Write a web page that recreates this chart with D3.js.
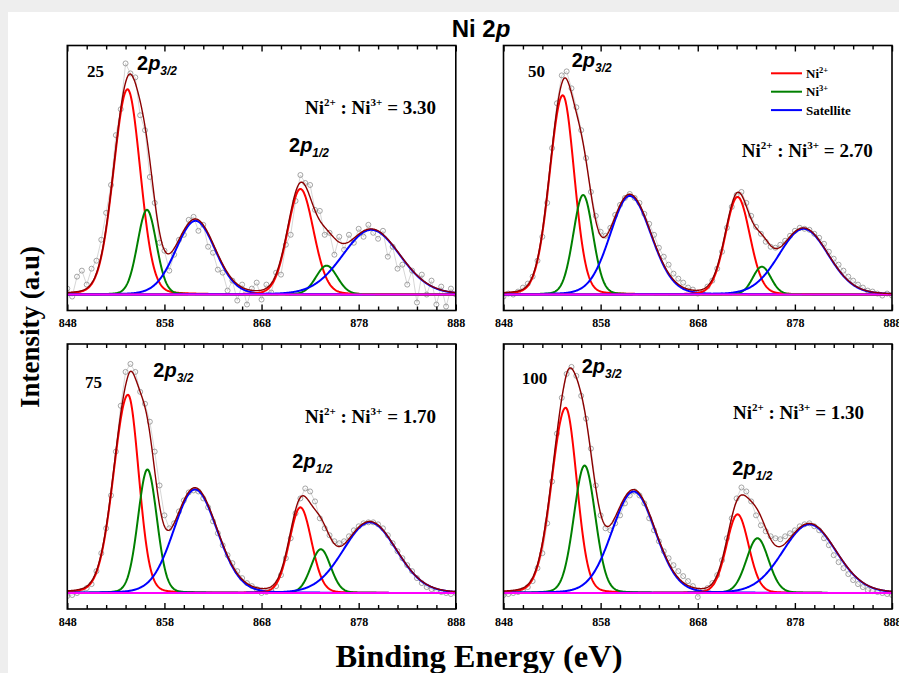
<!DOCTYPE html>
<html>
<head>
<meta charset="utf-8">
<script src="https://cdnjs.cloudflare.com/ajax/libs/d3/7.8.5/d3.min.js"></script>
<style>
  body { margin: 0; background: #eeeeee; }
  svg { display: block; }
  .tick text { font-family: "Liberation Serif", "Times New Roman", serif; font-weight: bold; font-size: 12px; }
</style>
</head>
<body>
<div id="chart"></div>
<script>
// Binding energy ticks (eV)
var majorTicks = [848, 858, 868, 878, 888];
var minorTicks = [850, 852, 854, 856, 860, 862, 864, 866, 870, 872, 874, 876, 880, 882, 884, 886];

// measured points every 0.5 eV from 848 to 888 (a.u.)
var energies = d3.range(0, 81).map(function (i) { return 848 + i * 0.5; });
var pts25 = [6, -2, 18, 24, 10, 26, 34, 55, 82, 110,
  160, 186, 232, 222, 218, 180, 165, 118, 92, 52,
  44, 24, 40, 55, 60, 75, 78, 64, 70, 48,
  42, 25, 22, 4, 14, -6, 10, -10, 6, 12,
  -5, 10, 2, 22, 20, 50, 60, 94, 120, 112,
  110, 85, 84, 60, 62, 40, 58, 45, 60, 52,
  66, 58, 70, 62, 56, 64, 38, 48, 26, 30,
  10, 24, -8, 20, 0, 14, -10, 8, -12, 6,
  0];
var pts50 = [-2, 1, 0, 3, 7, 11, 18, 34, 58, 92,
  147, 192, 220, 224, 207, 188, 165, 137, 103, 79,
  63, 59, 67, 80, 90, 97, 101, 97, 92, 81,
  71, 60, 47, 38, 30, 21, 16, 12, 7, 5,
  1, 2, 8, 14, 26, 43, 67, 88, 100, 103,
  92, 79, 68, 61, 53, 48, 47, 50, 54, 59,
  64, 67, 66, 65, 61, 57, 51, 43, 36, 30,
  24, 18, 14, 10, 7, 4, 3, 1, -1, 1,
  -1];
var pts75 = [-3, -2, 0, 2, 5, 9, 22, 40, 65, 98,
  142, 188, 222, 230, 222, 202, 190, 172, 142, 108,
  78, 65, 70, 82, 93, 101, 103, 102, 95, 86,
  72, 60, 48, 38, 30, 22, 15, 10, 7, 4,
  0, 1, 3, 7, 18, 35, 55, 80, 95, 105,
  102, 92, 75, 65, 58, 52, 50, 52, 57, 63,
  67, 70, 71, 71, 69, 65, 58, 50, 42, 35,
  28, 22, 15, 10, 6, 4, 2, 1, 0, -1,
  0];
var pts100 = [-2, -1, 0, 1, 3, 6, 12, 25, 40, 70,
  112, 160, 196, 220, 227, 218, 198, 175, 145, 108,
  78, 65, 63, 70, 78, 90, 98, 102, 98, 90,
  75, 63, 52, 42, 35, 28, 22, 17, 12, 7,
  -4, 2, 5, 10, 18, 33, 55, 75, 95, 106,
  102, 92, 78, 68, 62, 57, 55, 54, 57, 60,
  63, 67, 69, 70, 67, 63, 55, 48, 38, 31,
  25, 19, 13, 9, 6, 3, 2, 1, 0, -1,
  -2];

// fitted peaks: 2p3/2 Ni2+, Ni3+, sat, 2p1/2 Ni2+, Ni3+, sat
// widths are FWHM (eV) on the low / high energy side
var peakTypes = ["Ni2+", "Ni3+", "Satellite", "Ni2+", "Ni3+", "Satellite"];
var centers25 = [854.2, 856.2, 861.2, 872.0, 874.7, 879.3];
var heights25 = [206, 85, 74, 106, 29, 65];
var wLow25 = [3.4, 2.3, 4.8, 3.1, 2.6, 7.0];
var wHigh25 = [3.1, 2.3, 4.8, 3.2, 2.6, 7.0];
var centers50 = [854.1, 856.2, 861.0, 872.1, 874.6, 878.9];
var heights50 = [200, 100, 99, 98, 28, 66];
var wLow50 = [3.2, 2.4, 4.8, 3.0, 2.2, 6.0];
var wHigh50 = [2.8, 2.4, 5.2, 3.0, 2.2, 6.0];
var centers75 = [854.25, 856.25, 861.15, 872.0, 874.1, 879.15];
var heights75 = [199, 124, 104, 86, 44, 71];
var wLow75 = [3.5, 2.3, 5.2, 2.7, 2.4, 6.5];
var wHigh75 = [2.6, 2.3, 5.4, 2.7, 2.4, 6.5];
var centers100 = [854.4, 856.35, 861.4, 872.1, 874.15, 879.5];
var heights100 = [186, 128, 102, 79, 55, 69];
var wLow100 = [3.4, 2.6, 5.3, 2.7, 2.7, 6.5];
var wHigh100 = [2.7, 2.6, 5.3, 2.7, 2.7, 6.5];

var samples = ["25", "50", "75", "100"];
var ratios = ["3.30", "2.70", "1.70", "1.30"];

var colors = { "Ni2+": "#ff0000", "Ni3+": "#008000", "Satellite": "#0000ff" };

var width = 899, height = 673;
var pw = 388.5, ph = 265;

// panel layout and label spots
var panels = [
  { pts: pts25, c: centers25, h: heights25, wl: wLow25, wr: wHigh25, x: 67.3, y: 45.5,
    num: [87, 76.5], p32: [137, 70], p12: [289, 152], ratio: [305, 114] },
  { pts: pts50, c: centers50, h: heights50, wl: wLow50, wr: wHigh50, x: 503.5, y: 45.5,
    num: [528, 77], p32: [571.7, 67], p12: null, ratio: [741.7, 157], legend: true },
  { pts: pts75, c: centers75, h: heights75, wl: wLow75, wr: wHigh75, x: 67.3, y: 344,
    num: [85, 388], p32: [153.3, 377], p12: [292.3, 468], ratio: [305, 422.7] },
  { pts: pts100, c: centers100, h: heights100, wl: wLow100, wr: wHigh100, x: 503.5, y: 344,
    num: [521.7, 384], p32: [581.7, 373], p12: [732.3, 475], ratio: [733, 419] }
];

var svg = d3.select("#chart").append("svg")
  .attr("width", width)
  .attr("height", height);

svg.append("rect")
  .attr("x", 8).attr("y", 12)
  .attr("width", width - 8).attr("height", height - 12)
  .attr("fill", "#fff");

var x = d3.scaleLinear().domain([848, 888]).range([0, pw]);
var y = d3.scaleLinear().domain([-16, 250]).range([ph, 0]);

// asymmetric Gauss-Lorentz line shape (10% Lorentzian)
function peak(e, p, j) {
  var w = e < p.c[j] ? p.wl[j] : p.wr[j];
  var r = (e - p.c[j]) / (w / 2);
  return p.h[j] * (0.9 * Math.exp(-Math.LN2 * r * r) + 0.1 / (1 + r * r));
}

var grid = d3.range(848, 888.001, 0.05);
var line = d3.line().x(function (d) { return x(d[0]); }).y(function (d) { return y(d[1]); });

var serif = "'Liberation Serif', 'Times New Roman', serif";
var sans = "'Liberation Sans', Arial, sans-serif";

panels.forEach(function (p, k) {
  var g = svg.append("g").attr("transform", "translate(" + p.x + "," + p.y + ")");

  g.append("clipPath").attr("id", "clip" + k)
    .append("rect").attr("width", pw).attr("height", ph);
  var plot = g.append("g").attr("clip-path", "url(#clip" + k + ")");

  var raw = energies.map(function (e, i) { return [e, p.pts[i]]; });

  // raw data: thin grey line + open circles
  plot.append("path")
    .attr("d", line(raw))
    .attr("fill", "none")
    .attr("stroke", "#cccccc")
    .attr("stroke-width", 0.8);
  plot.selectAll("circle")
    .data(raw)
    .enter().append("circle")
      .attr("cx", function (d) { return x(d[0]); })
      .attr("cy", function (d) { return y(d[1]); })
      .attr("r", 2.5)
      .attr("fill", "none")
      .attr("stroke", "#808080")
      .attr("stroke-width", 0.7);

  // components
  p.c.forEach(function (c, j) {
    var comp = grid.map(function (e) { return [e, peak(e, p, j)]; });
    plot.append("path")
      .attr("d", line(comp))
      .attr("fill", "none")
      .attr("stroke", colors[peakTypes[j]])
      .attr("stroke-width", 2);
  });

  // baseline
  plot.append("path")
    .attr("d", line([[848, 0], [888, 0]]))
    .attr("stroke", "#ff00ff")
    .attr("stroke-width", 2);

  // envelope
  var env = grid.map(function (e) {
    return [e, d3.sum(p.c, function (c, j) { return peak(e, p, j); })];
  });
  plot.append("path")
    .attr("d", line(env))
    .attr("fill", "none")
    .attr("stroke", "#8b0000")
    .attr("stroke-width", 1.4);

  // frame + ticks
  g.append("rect")
    .attr("width", pw).attr("height", ph)
    .attr("fill", "none")
    .attr("stroke", "#000")
    .attr("stroke-width", 1.6);

  var bottom = g.append("g").attr("transform", "translate(0," + ph + ")");
  bottom.call(d3.axisBottom(x).tickValues(majorTicks).tickSize(-6).tickPadding(8).tickFormat(d3.format("d")));
  bottom.select(".domain").remove();
  var bottomMinor = g.append("g").attr("transform", "translate(0," + ph + ")");
  bottomMinor.call(d3.axisBottom(x).tickValues(minorTicks).tickSize(-4).tickFormat(""));
  bottomMinor.select(".domain").remove();

  var top = g.append("g");
  top.call(d3.axisTop(x).tickValues(majorTicks).tickSize(-6).tickFormat(""));
  top.select(".domain").remove();
  var topMinor = g.append("g");
  topMinor.call(d3.axisTop(x).tickValues(minorTicks).tickSize(-4).tickFormat(""));
  topMinor.select(".domain").remove();

  g.selectAll(".tick line").attr("stroke-width", 1.4);
  g.selectAll(".tick text").attr("fill", "#000");

  // sample label
  svg.append("text")
    .attr("x", p.num[0]).attr("y", p.num[1])
    .attr("font-family", serif).attr("font-weight", "bold").attr("font-size", 17)
    .text(samples[k]);

  // orbital labels
  function orbital(pos, sub) {
    var t = svg.append("text")
      .attr("x", pos[0]).attr("y", pos[1])
      .attr("font-family", sans).attr("font-weight", "bold").attr("font-size", 20);
    t.append("tspan").text("2");
    t.append("tspan").attr("font-style", "italic").text("p");
    t.append("tspan").attr("font-style", "italic").attr("font-size", 12).attr("dy", 5).text(sub);
  }
  orbital(p.p32, "3/2");
  if (p.p12) orbital(p.p12, "1/2");

  // ratio
  var r = svg.append("text")
    .attr("x", p.ratio[0]).attr("y", p.ratio[1])
    .attr("font-family", serif).attr("font-weight", "bold").attr("font-size", 19);
  r.append("tspan").text("Ni");
  r.append("tspan").attr("font-size", 11).attr("dy", -8).text("2+");
  r.append("tspan").attr("dy", 8).text(" : Ni");
  r.append("tspan").attr("font-size", 11).attr("dy", -8).text("3+");
  r.append("tspan").attr("dy", 8).text(" = " + ratios[k]);

  // legend
  if (p.legend) {
    var items = ["Ni2+", "Ni3+", "Satellite"];
    var lg = svg.append("g").attr("transform", "translate(771,73.3)");
    items.forEach(function (name, i) {
      lg.append("line")
        .attr("x1", 0).attr("x2", 31)
        .attr("y1", i * 18.4).attr("y2", i * 18.4)
        .attr("stroke", colors[name]).attr("stroke-width", 2);
      var t = lg.append("text")
        .attr("x", 35).attr("y", i * 18.4 + 4.5)
        .attr("font-family", serif).attr("font-weight", "bold").attr("font-size", 13);
      if (name === "Satellite") {
        t.text(name);
      } else {
        t.append("tspan").text("Ni");
        t.append("tspan").attr("font-size", 8.5).attr("dy", -5).text(name.slice(2));
      }
    });
  }
});

// titles
var title = svg.append("text")
  .attr("x", 481).attr("y", 37)
  .attr("text-anchor", "middle")
  .attr("font-family", sans).attr("font-weight", "bold").attr("font-size", 24);
title.append("tspan").text("Ni 2");
title.append("tspan").attr("font-style", "italic").text("p");

svg.append("text")
  .attr("transform", "translate(30,327) rotate(-90)")
  .attr("text-anchor", "middle")
  .attr("dy", "0.35em")
  .attr("font-family", serif).attr("font-weight", "bold").attr("font-size", 27)
  .text("Intensity (a.u)");

svg.append("text")
  .attr("x", 479).attr("y", 667)
  .attr("text-anchor", "middle")
  .attr("font-family", serif).attr("font-weight", "bold").attr("font-size", 32.5)
  .text("Binding Energy (eV)");
</script>
</body>
</html>
